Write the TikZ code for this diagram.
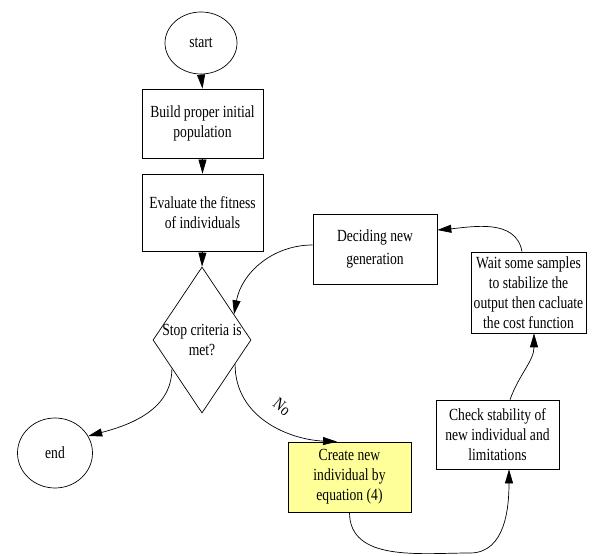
\documentclass[tikz,border=0pt]{standalone}
\usepackage{fontspec}
\setmainfont{Liberation Serif}[FakeStretch=0.8]
\usetikzlibrary{arrows.meta,shapes.geometric,calc}
\definecolor{paleyellow}{RGB}{255,255,153}
\begin{document}
\begin{tikzpicture}[x=1pt,y=-1pt,
  font=\fontsize{17}{20}\selectfont,
  every path/.style={line width=0.7pt},
  box/.style={draw,line width=0.7pt,minimum width=121pt,minimum height=69pt,inner sep=0pt,align=center},
  oval/.style={draw,ellipse,line width=0.7pt,inner sep=0pt},
  arr/.style={-{Triangle[length=14pt,width=8pt]}},
  txt/.style={inner sep=0pt,align=center}]
\useasboundingbox (0,0) rectangle (595,556);
\node[oval,minimum width=72pt,minimum height=62pt] (start) at (201,43) {start};
\node[box] (b1) at (202.5,123.5) {Build proper initial\\population};
\node[box,minimum height=77pt] (b2) at (202.5,212.5) {Evaluate the fitness\\of individuals};
\node[diamond,draw,line width=0.7pt,inner sep=0pt,minimum width=98pt,minimum height=146pt] (d) at (202,340) {};
\node[txt] (dt) at (d.center) {Stop criteria is\\met?};
\node[oval,minimum width=75pt,minimum height=70pt] (end) at (55,453) {end};
\node[box,minimum width=124pt,minimum height=70pt,font=\fontsize{17}{23}\selectfont] (dec) at (375,249) {Deciding new\\generation};
\node[box,minimum width=115pt,minimum height=81pt] (wait) at (528.5,292.5) {Wait some samples\\to stabilize the\\output then cacluate\\the cost function};
\node[box,minimum width=123pt,minimum height=69pt] (chk) at (497.5,434.5) {Check stability of\\new individual and\\limitations};
\node[box,fill=paleyellow,minimum width=123pt,minimum height=70pt] (cre) at (349.5,477) {Create new\\individual by\\equation (4)};
\node[txt,rotate=-40] (no) at (282,407) {No};

\coordinate (dr) at ($(d.east)!0.33!(d.south)$);
\coordinate (ct) at ([xshift=-12.5pt]cre.north);
\draw[arr] (start.south) -- (b1.north);
\draw[arr] (b1.south) -- (b2.north);
\draw[arr] (b2.south) -- (d.north);
\draw[arr] ($(d.west)!0.39!(d.south)$) to[out=-90,in=15] (end.27);
\draw[arr] (dr) .. controls ($(dr)+(0,54)$) and ($(ct)+(-47,-2)$) .. (ct);
\draw[arr] (cre.south) to[out=-90,in=180] (470,553) to[out=0,in=-90] ([xshift=11.5pt]chk.south);
\draw[arr] ([xshift=12.5pt]chk.north) to[out=70,in=-90] ([xshift=5.5pt]wait.south);
\draw[arr] ([xshift=-6.5pt]wait.north) to[out=100,in=5] ([yshift=19pt]dec.east);
\draw[arr] ([yshift=4pt]dec.west) to[out=180,in=80] ($(d.north)!0.65!(d.east)$);
\end{tikzpicture}
\end{document}
